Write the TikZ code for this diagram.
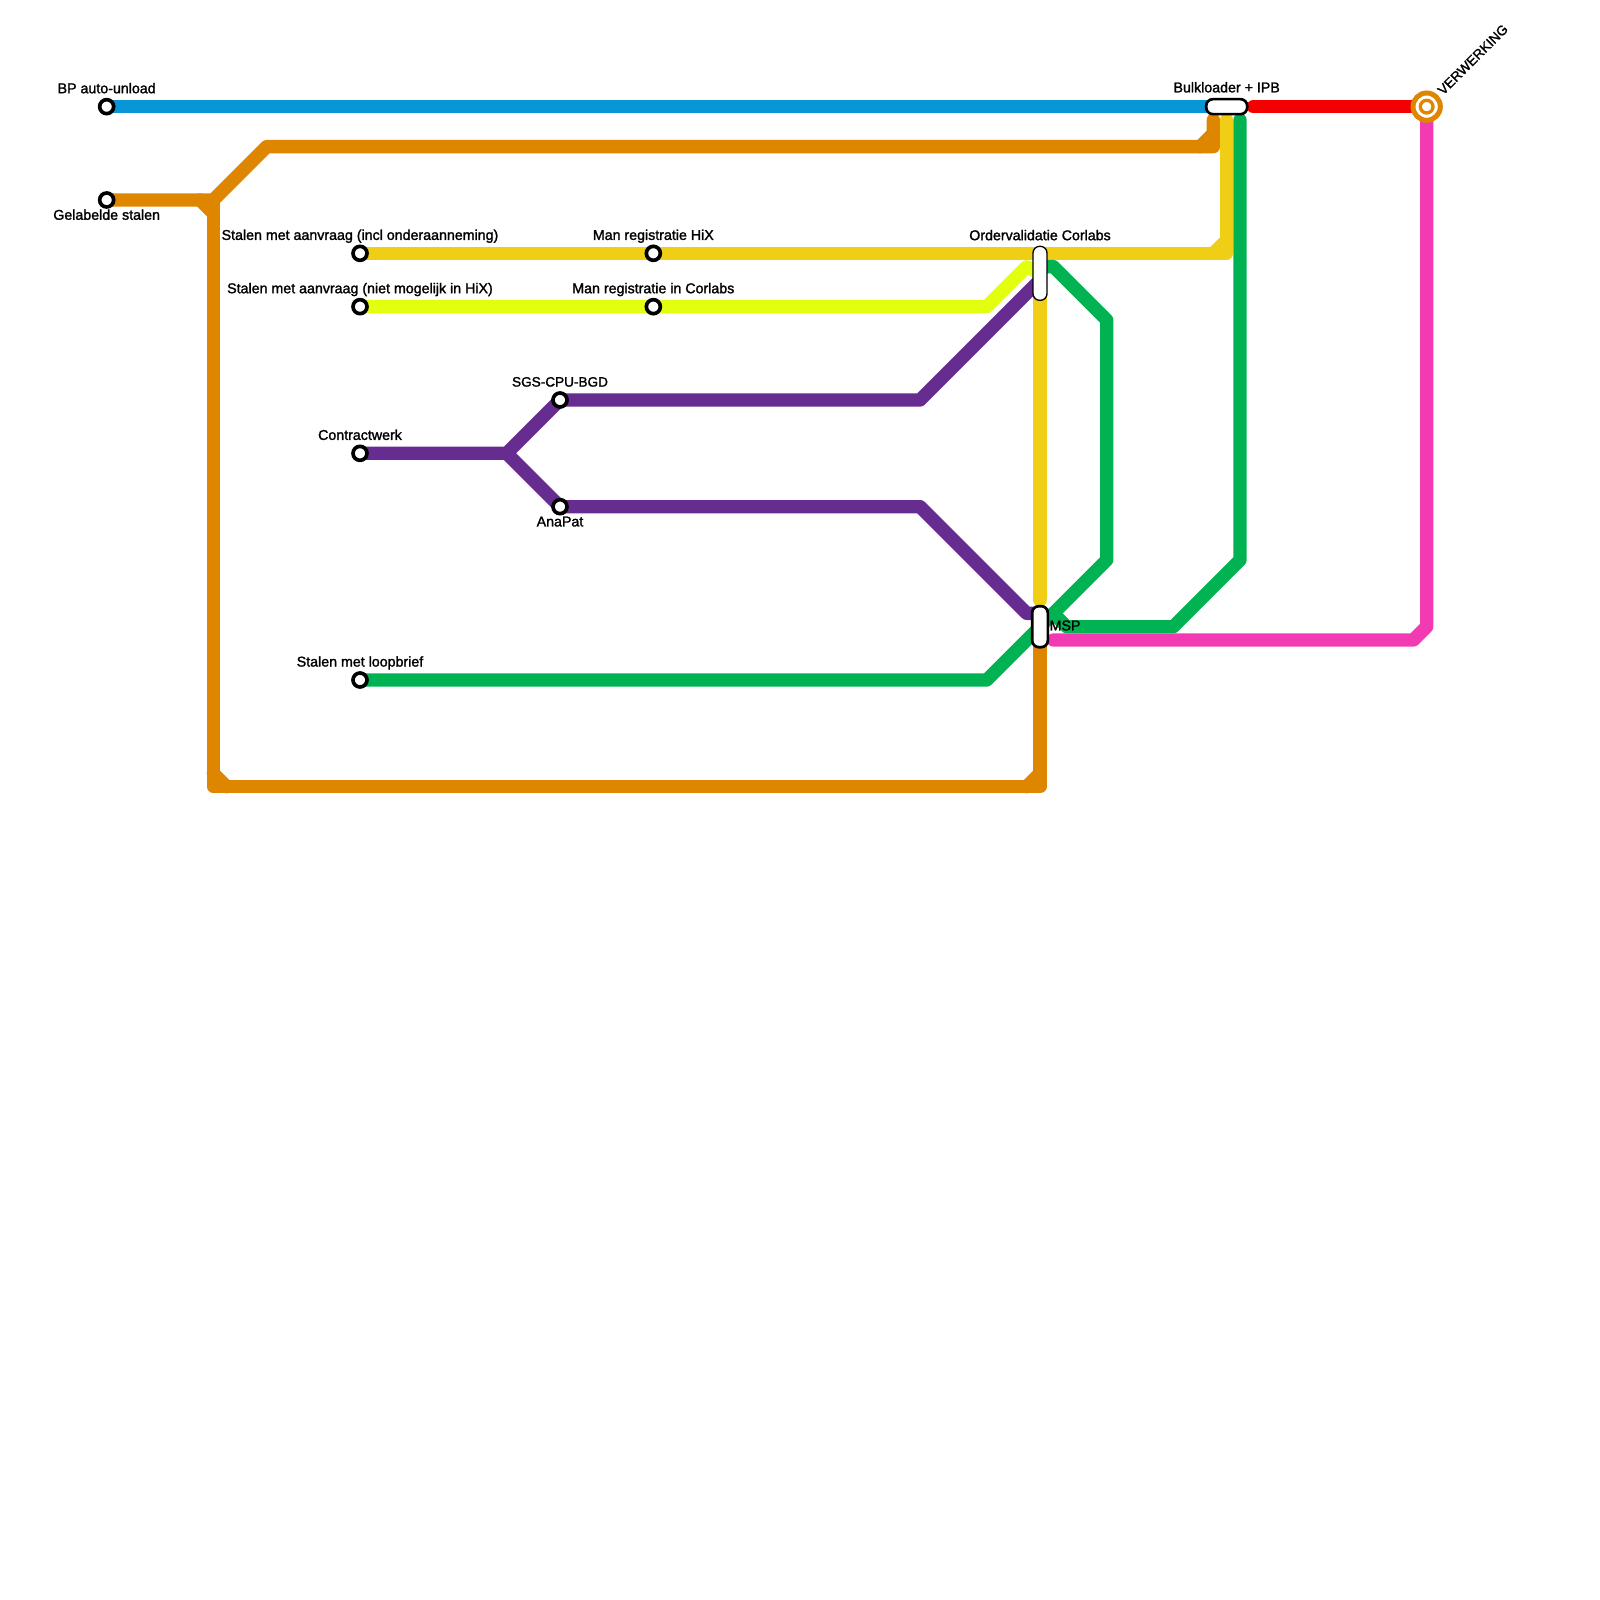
\documentclass[tikz,border=0pt]{standalone}
\usepackage{fontspec}
\usepackage{xcolor}
\usepackage{tikz}
\usetikzlibrary{positioning}
\usetikzlibrary{backgrounds}
\newfontfamily\lblfont[FakeBold=1.6]{Liberation Sans}
\definecolor{lineblue}{HTML}{0896D7}
\definecolor{lineorange}{HTML}{DF8600}
\definecolor{lineyellow}{HTML}{F0CE15}
\definecolor{linelime}{HTML}{E1FF0F}
\definecolor{linepurple}{HTML}{662C90}
\definecolor{linegreen}{HTML}{00B251}
\definecolor{linepink}{HTML}{F23AB3}
\definecolor{linered}{HTML}{F40000}

\begin{document}
\begin{tikzpicture}
    [x=.2cm, y=-.2cm, node distance=.022cm,
    metro/.style={line width=.2cm, line cap=round, line join=round},
    halt/.style={circle, draw=black, fill=white, line width=.055cm, minimum size=.21cm, inner sep=0pt},
    wide/.style={rectangle, draw=black, fill=white, rounded corners=.1cm, inner sep=0pt},
    lbl/.style={font=\lblfont\fontsize{6.07pt}{6.5pt}\selectfont, inner sep=0pt, text height=.152cm, text depth=.04cm},
    capslbl/.style={lbl, font=\lblfont\fontsize{5.8pt}{6.5pt}\selectfont}]

\useasboundingbox (0,0) rectangle (120,120);

\node[halt] (bp) at (8,8) {};
\node[halt] (gelabeld) at (8,15) {};
\node[halt] (incl) at (27,19) {};
\node[halt] (niet) at (27,23) {};
\node[halt] (hix) at (49,19) {};
\node[halt] (corlabs) at (49,23) {};
\node[halt] (sgs) at (42,30) {};
\node[halt] (contract) at (27,34) {};
\node[halt] (anapat) at (42,38) {};
\node[halt] (loopbrief) at (27,51) {};
\node[wide, line width=.04cm, minimum width=.615cm, minimum height=.225cm] (bulk) at (92,8) {};
\node[wide, line width=.02cm, minimum width=.21cm, minimum height=.81cm] (order) at (78,20.5) {};
\node[wide, line width=.04cm, minimum width=.235cm, minimum height=.615cm] (msp) at (78,47) {};
\node[circle, draw=lineorange, fill=white, line width=.075cm, minimum size=.41cm, inner sep=0pt] (verwerking) at (107,8) {};
\node[circle, draw=lineorange, fill=white, line width=.05cm, minimum size=.19cm, inner sep=0pt] (verwerkingin) at (107,8) {};

\node[lbl, above=of bp] (bplabel) {BP auto-unload};
\node[lbl, below=.005cm of gelabeld] (gelabeldlabel) {Gelabelde stalen};
\node[lbl, above=of incl] (incllabel) {Stalen met aanvraag (incl onderaanneming)};
\node[lbl, above=of niet] (nietlabel) {Stalen met aanvraag (niet mogelijk in HiX)};
\node[lbl, above=of hix] (hixlabel) {Man registratie HiX};
\node[lbl, above=of corlabs] (corlabslabel) {Man registratie in Corlabs};
\node[capslbl, above=of sgs] (sgslabel) {SGS-CPU-BGD};
\node[lbl, above=of contract] (contractlabel) {Contractwerk};
\node[lbl, below=.005cm of anapat] (anapatlabel) {AnaPat};
\node[lbl, above=of loopbrief] (loopbrieflabel) {Stalen met loopbrief};
\node[lbl, above=.035cm of bulk] (bulklabel) {Bulkloader + IPB};
\node[lbl, above=.035cm of order] (orderlabel) {Ordervalidatie Corlabs};
\node[lbl, right=0cm of msp] (msplabel) {MSP};
\node[capslbl, rotate=45, anchor=west] (verwerkinglabel) at ([xshift=.205cm, yshift=.2cm]verwerking.center) {VERWERKING};

\coordinate (ora) at (16,15);
\coordinate (orb) at (20,11);
\coordinate (orc) at (91,11);
\coordinate (ord) at (91,9);
\coordinate (ore) at (16,59);
\coordinate (orf) at (78,59);
\coordinate (yea) at (92,19);
\coordinate (yeb) at (92,9);
\coordinate (yec) at (78,19);
\coordinate (yed) at (78,45);
\coordinate (lia) at (74,23);
\coordinate (lib) at (77,20);
\coordinate (pua) at (38,34);
\coordinate (pub) at (69,30);
\coordinate (puc) at (78,21);
\coordinate (pud) at (69,38);
\coordinate (pue) at (77,46);
\coordinate (pug) at (78,46);
\coordinate (gra) at (74,51);
\coordinate (grb) at (83,42);
\coordinate (grc) at (83,24);
\coordinate (grd) at (79,20);
\coordinate (gre) at (78,20);
\coordinate (grf) at (93,9);
\coordinate (grg) at (93,42);
\coordinate (grh) at (88,47);
\coordinate (gri) at (80,47);
\coordinate (grj) at (79,46);
\coordinate (pia) at (79,48);
\coordinate (pib) at (106,48);
\coordinate (pic) at (107,47);
\coordinate (rea) at (94,8);

\begin{scope}[on background layer]
    \draw[metro, lineorange] (gelabeld.center) -- (ora) -- (orb) -- (orc) -- (ord);
    \draw[metro, lineorange] (ora) -- (ore) -- (orf) -- (msp.center);
    \draw[metro, lineorange] (15,15) -- (16,16);
    \draw[metro, lineorange] (16,58) -- (17,59);
    \draw[metro, lineorange] (77,59) -- (78,58);
    \draw[metro, lineorange] (90,11) -- (91,10);
    \draw[metro, lineyellow] (incl.center) -- (yea) -- (yeb);
    \draw[metro, lineyellow] (91,19) -- (92,18);
    \draw[metro, lineyellow] (yec) -- (yed);
    \draw[metro, linelime] (niet.center) -- (lia) -- (lib) -- (order.center);
    \draw[metro, linegreen] (loopbrief.center) -- (gra) -- (grb) -- (grc) -- (grd) -- (gre);
    \draw[metro, linegreen] (grf) -- (grg) -- (grh) -- (gri) -- (grj);
    \draw[metro, linepurple] (contract.center) -- (pua) -- (sgs.center) -- (pub) -- (puc);
    \draw[metro, linepurple] (pua) -- (anapat.center) -- (pud) -- (pue) -- (pug);
    \draw[metro, linepink] (pia) -- (pib) -- (pic) -- (verwerking.center);
    \draw[metro, linered] (rea) -- (verwerking.center);
    \draw[metro, lineblue] (bp.center) -- (bulk.center);
\end{scope}
\end{tikzpicture}
\end{document}
